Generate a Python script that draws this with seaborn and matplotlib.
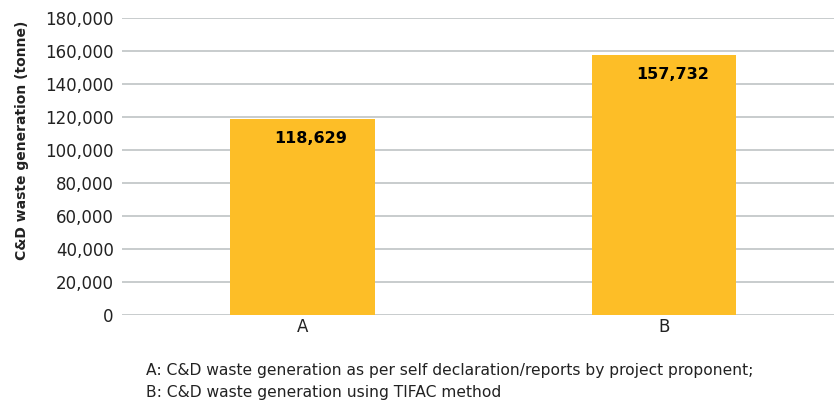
import matplotlib
matplotlib.use("Agg")
import matplotlib.pyplot as plt
import seaborn as sns
import pandas as pd

# data
categories = ["A", "B"]
values = [118629, 157732]
y_ticks = [0, 20000, 40000, 60000, 80000, 100000, 120000, 140000, 160000, 180000]
footnote_lines = [
    "A: C&D waste generation as per self declaration/reports by project proponent;",
    "B: C&D waste generation using TIFAC method",
]

sns.set_theme(style="white")
plt.rcParams['font.family'] = ['DejaVu Sans']

bar_color = "#FDBE27"
grid_color = "#BFC3C5"
text_color = "#222222"

df = pd.DataFrame({"cat": categories, "val": values})

fig = plt.figure(figsize=(8.34, 4.05), dpi=100)
ax = fig.add_axes([0.1463, 0.2222, 0.8537, 0.7334])

# grid lines behind the bars
ax.hlines(y_ticks, -0.5, 1.47, colors=grid_color, linewidth=1.2, zorder=0)

sns.barplot(data=df, x="cat", y="val", color=bar_color, width=0.4,
            saturation=1, linewidth=0, ax=ax, zorder=3)

ax.grid(False)
ax.set_ylim(0, 180000)
ax.set_xlim(-0.5, 1.47)
ax.set_yticks(y_ticks)
ax.set_yticklabels([f"{t:,}" for t in y_ticks], fontsize=12, color=text_color)
ax.tick_params(axis="x", labelsize=12, colors=text_color, length=0, pad=2)
ax.tick_params(axis="y", length=0, pad=6)

for s in ["top", "right", "left", "bottom"]:
    ax.spines[s].set_visible(False)

ax.set_xlabel("")
ax.set_ylabel("")
fig.text(22 / 834, 1 - 140 / 405, "C&D waste generation (tonne)", rotation=90,
         fontsize=10, fontweight="bold", color=text_color, ha="center", va="center")

for i, v in enumerate(values):
    ax.annotate(f"{v:,}", xy=(i, v), xytext=(6, -14), textcoords="offset points",
                ha="center", va="center", fontsize=11.5, fontweight="bold",
                color="black", zorder=5)

for k, line in enumerate(footnote_lines):
    fig.text(146 / 834, 1 - (370 + 23 * k) / 405, line, fontsize=11.2,
             color=text_color, ha="left", va="center")

fig.savefig("out.png", dpi=100)
